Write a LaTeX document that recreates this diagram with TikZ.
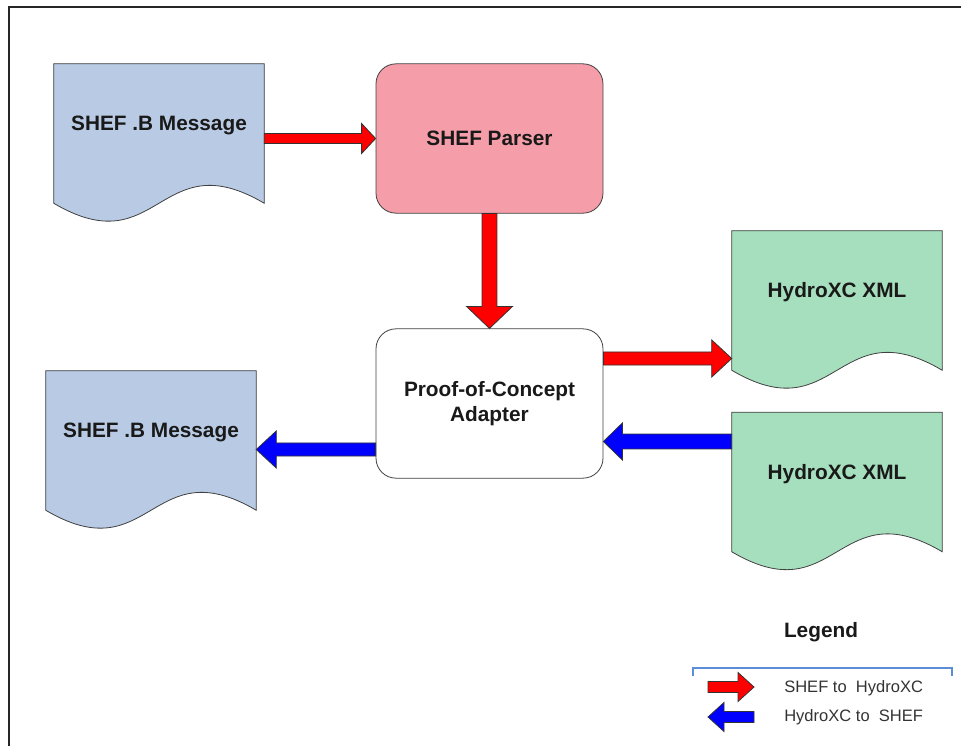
\documentclass[tikz,border=0pt]{standalone}
\usepackage{fontspec}
\setmainfont{Liberation Sans}
\usepackage{xcolor}
\usetikzlibrary{positioning,calc,backgrounds}

\definecolor{docblue}{RGB}{184,202,228}
\definecolor{parsepink}{RGB}{246,157,170}
\definecolor{xmlgreen}{RGB}{166,223,189}
\definecolor{legblue}{RGB}{91,142,214}
\definecolor{flowred}{RGB}{255,0,0}
\definecolor{flowblue}{RGB}{0,0,255}

\tikzset{
  % block arrow: shaft half width / head half width / head length
  fat/.style args={#1/#2/#3}{draw=black!80, line width=0.6pt, line join=miter,
    to path={($(\tikztotarget)!#3!(\tikztostart)$) coordinate (hb)
      ($(\tikztostart)!#1!90:(\tikztotarget)$)
      -- ($(hb)!#1!90:(\tikztotarget)$)
      -- ($(hb)!#2!90:(\tikztotarget)$)
      -- (\tikztotarget)
      -- ($(hb)!#2!-90:(\tikztotarget)$)
      -- ($(hb)!#1!-90:(\tikztotarget)$)
      -- ($(\tikztostart)!#1!-90:(\tikztotarget)$)
      -- cycle}},
  redflow/.style={fill=flowred, fat=#1},
  blueflow/.style={fill=flowblue, fat=#1},
  doc/.style={draw=none, inner sep=0pt, minimum width=157.5pt, minimum height=104.25pt,
    text height=11.5pt, text depth=15.3pt, text=black!90,
    font=\bfseries\fontsize{15.6}{18}\selectfont},
  docline/.style={draw=black!75, line width=0.6pt},
  proc/.style={draw=black!75, line width=0.6pt, rounded corners=15pt,
    minimum width=170.25pt, minimum height=112pt, align=center, text=black!90,
    font=\bfseries\fontsize{15.6}{18.75}\selectfont},
  legtext/.style={anchor=west, inner sep=0pt, text=black!80,
    font=\fontsize{12.4}{14}\selectfont},
}

\begin{document}
\begin{tikzpicture}[x=0.75pt,y=0.75pt,yscale=-1,xscale=1]
    \useasboundingbox (0,0) rectangle (961,746);
    \draw[black!85, line width=1.6pt] (9,746) -- (9,7) -- (961,7);

    % blocks
    \node[doc] (shefin) at (159,133.5) {SHEF .B Message};
    \node[proc, fill=parsepink] (parser) at (489.5,138.5) {SHEF Parser};
    \node[proc, fill=white] (adapter) at (489.5,403.5) {Proof-of-Concept\\Adapter};
    \node[doc] (xmlout) at (837,300.5) {HydroXC XML};
    \node[doc] (xmlin) at (837,482) {HydroXC XML};
    \node[doc] (shefout) at (151,440.5) {SHEF .B Message};

    % document outlines with wavy bottom
    \begin{scope}[on background layer]
      \foreach \d/\c in {shefin/docblue, shefout/docblue, xmlout/xmlgreen, xmlin/xmlgreen}
        \draw[docline, fill=\c] (\d.north west) -- (\d.north east) -- (\d.south east)
          .. controls ($(\d.south)+(0,-62)$) and ($(\d.south)+(0,62)$) .. (\d.south west) -- cycle;
    \end{scope}

    % flows
    \coordinate (a1) at (shefin.east |- parser.west);
    \coordinate (a2) at ($(adapter.east)+(0,-45)$);
    \coordinate (a3) at (xmlout.west |- a2);
    \coordinate (a4) at ($(adapter.east)+(0,38)$);
    \coordinate (a5) at (xmlin.west |- a4);
    \coordinate (a6) at ($(adapter.west)+(0,46)$);
    \coordinate (a7) at (shefout.east |- a6);

    \draw[redflow=3.75pt/11.25pt/10.5pt] (a1) to (parser.west);
    \draw[redflow=5.6pt/17.25pt/16.5pt] (parser.south) to (adapter.north);
    \draw[redflow=4.9pt/13.9pt/15pt] (a2) to (a3);
    \draw[blueflow=5.6pt/13.9pt/14.25pt] (a5) to (a4);
    \draw[blueflow=4.9pt/13.9pt/15pt] (a6) to (a7);

    % legend
    \node[text=black!90, font=\bfseries\fontsize{15.6}{18}\selectfont] (legend) at (821,632) {Legend};
    \draw[legblue, line width=1.2pt] (693,676) -- (693,668) -- (952,668) -- (952,676);
    \coordinate (lg1) at (708,687);
    \coordinate (lg2) at (754,687);
    \coordinate (lg3) at (754,717);
    \coordinate (lg4) at (708,717);
    \draw[redflow=4.1pt/10.9pt/12pt] (lg1) to (lg2);
    \draw[blueflow=4.1pt/10.9pt/12pt] (lg3) to (lg4);
    \node[legtext] (legtohxc) at (784,688) {SHEF to\ \ HydroXC};
    \node[legtext] (legtoshef) at (784,717) {HydroXC to\ \ SHEF};
\end{tikzpicture}
\end{document}
